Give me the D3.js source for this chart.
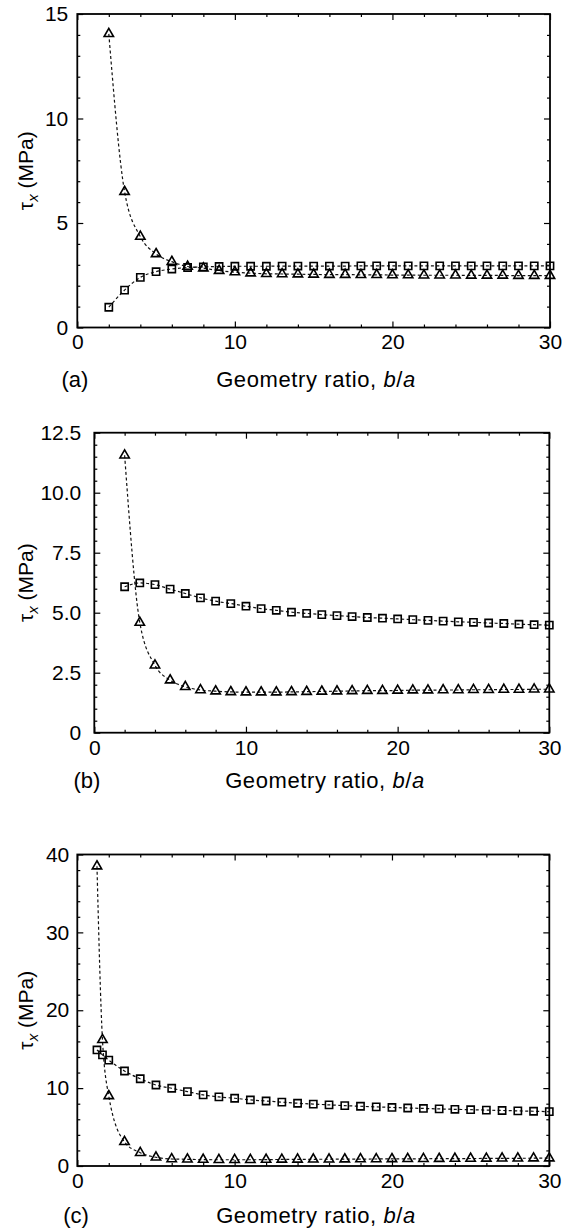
<!DOCTYPE html>
<html>
<head>
<meta charset="utf-8">
<script src="https://cdn.jsdelivr.net/npm/d3@7"></script>
<style>
  body { margin: 0; background: #fff; }
  svg { display: block; }
</style>
</head>
<body>
<script>
// x values (b/a)
var ratioAB = [2, 3, 4, 5, 6, 7, 8, 9, 10, 11, 12, 13, 14, 15, 16, 17, 18, 19, 20,
    21, 22, 23, 24, 25, 26, 27, 28, 29, 30];
var ratioC = [1.25, 1.6, 2, 3, 4, 5, 6, 7, 8, 9, 10, 11, 12, 13, 14, 15, 16, 17, 18,
    19, 20, 21, 22, 23, 24, 25, 26, 27, 28, 29, 30];

// panel (a)
var squaresA = [0.97, 1.79, 2.4, 2.67, 2.8, 2.87, 2.9, 2.92, 2.93, 2.93, 2.93, 2.94,
    2.94, 2.94, 2.94, 2.94, 2.95, 2.95, 2.95, 2.95, 2.95, 2.95, 2.95, 2.95, 2.95,
    2.95, 2.95, 2.95, 2.95];
var trianglesA = [14.05, 6.5, 4.35, 3.52, 3.15, 2.92, 2.84, 2.72, 2.65, 2.6, 2.57,
    2.56, 2.55, 2.54, 2.53, 2.53, 2.52, 2.52, 2.51, 2.51, 2.5, 2.5, 2.5, 2.49, 2.49,
    2.49, 2.48, 2.48, 2.48];

// panel (b)
var squaresB = [6.08, 6.24, 6.17, 5.98, 5.8, 5.62, 5.48, 5.38, 5.27, 5.17, 5.1,
    5.02, 4.97, 4.92, 4.88, 4.84, 4.8, 4.77, 4.74, 4.71, 4.68, 4.65, 4.62, 4.6,
    4.57, 4.55, 4.52, 4.5, 4.48];
var trianglesB = [11.56, 4.59, 2.81, 2.19, 1.91, 1.78, 1.73, 1.7, 1.69, 1.69, 1.69,
    1.7, 1.71, 1.72, 1.73, 1.74, 1.75, 1.75, 1.76, 1.77, 1.77, 1.78, 1.78, 1.79,
    1.79, 1.8, 1.8, 1.81, 1.81];

// panel (c)
var squaresC = [14.9, 14.27, 13.6, 12.2, 11.2, 10.4, 9.98, 9.55, 9.13, 8.87, 8.7,
    8.48, 8.35, 8.2, 8.06, 7.95, 7.85, 7.75, 7.67, 7.59, 7.52, 7.45, 7.39, 7.33,
    7.28, 7.23, 7.18, 7.13, 7.08, 7.03, 6.98];
var trianglesC = [38.5, 16.2, 9.0, 3.1, 1.7, 1.12, 0.9, 0.86, 0.82, 0.8, 0.8, 0.8,
    0.82, 0.84, 0.85, 0.86, 0.87, 0.88, 0.89, 0.9, 0.91, 0.92, 0.93, 0.94, 0.95,
    0.96, 0.97, 0.98, 0.99, 1.0, 1.0];

// ticks
var xTicks = [0, 10, 20, 30];
var xTickLabels = ["0", "10", "20", "30"];
var yTicksA = [0, 5, 10, 15];
var yTickLabelsA = ["0", "5", "10", "15"];
var yTicksB = [0, 2.5, 5, 7.5, 10, 12.5];
var yTickLabelsB = ["0", "2.5", "5.0", "7.5", "10.0", "12.5"];
var yTicksC = [0, 10, 20, 30, 40];
var yTickLabelsC = ["0", "10", "20", "30", "40"];
var panelNames = ["(a)", "(b)", "(c)"];

var fontFamily = "'Liberation Sans', Arial, Helvetica, sans-serif";
var fontSize = 21;

var svg = d3.select("body").append("svg")
    .attr("width", 563)
    .attr("height", 1228);

function labelMap(ticks, labels) {
    return function (d) {
        var i = ticks.indexOf(d);
        return i < 0 ? "" : labels[i];
    };
}

function drawPanel(p) {
    var g = svg.append("g");
    var x = d3.scaleLinear().domain([0, 30]).range([p.left, p.right]);
    var y = d3.scaleLinear().domain([0, p.yMax]).range([p.bottom, p.top]);

    var xMinor = d3.range(0, 30.001, 2).filter(function (v) { return xTicks.indexOf(v) < 0; });
    var yMinor = d3.range(0, p.yMax + 0.001, p.yMinorStep).filter(function (v) {
        return p.yTicks.indexOf(+v.toFixed(3)) < 0;
    });

    // bottom
    var bottom = g.append("g").attr("transform", "translate(0," + p.bottom + ")");
    bottom.call(d3.axisBottom(x).tickValues(xTicks).tickSize(-6).tickPadding(7)
        .tickFormat(labelMap(xTicks, xTickLabels)));
    bottom.append("g").call(d3.axisBottom(x).tickValues(xMinor).tickSize(-3).tickFormat(""));
    // top
    var top = g.append("g").attr("transform", "translate(0," + p.top + ")");
    top.call(d3.axisTop(x).tickValues(xTicks).tickSize(-6).tickFormat(""));
    top.append("g").call(d3.axisTop(x).tickValues(xMinor).tickSize(-3).tickFormat(""));
    // left
    var left = g.append("g").attr("transform", "translate(" + p.left + ",0)");
    left.call(d3.axisLeft(y).tickValues(p.yTicks).tickSize(-6).tickPadding(p.yPad)
        .tickFormat(labelMap(p.yTicks, p.yLabels)));
    left.append("g").call(d3.axisLeft(y).tickValues(yMinor).tickSize(-3).tickFormat(""));
    // right
    var right = g.append("g").attr("transform", "translate(" + p.right + ",0)");
    right.call(d3.axisRight(y).tickValues(p.yTicks).tickSize(-6).tickFormat(""));
    right.append("g").call(d3.axisRight(y).tickValues(yMinor).tickSize(-3).tickFormat(""));

    g.selectAll(".domain").remove();
    g.selectAll(".tick line").attr("stroke", "#000").attr("stroke-width", 1.2);
    g.selectAll(".tick text")
        .attr("fill", "#000")
        .style("font-family", fontFamily)
        .style("font-size", fontSize + "px");

    // frame
    g.append("rect")
        .attr("x", p.left).attr("y", p.top)
        .attr("width", p.right - p.left).attr("height", p.bottom - p.top)
        .attr("fill", "none").attr("stroke", "#000").attr("stroke-width", 1.8);

    var series = [
        { values: p.squares, symbol: d3.symbolSquare, size: 52 },
        { values: p.triangles, symbol: d3.symbolTriangle, size: 38 }
    ];

    var line = d3.line()
        .x(function (d) { return x(d[0]); })
        .y(function (d) { return y(d[1]); })
        .curve(d3.curveMonotoneX);

    series.forEach(function (s) {
        var pts = p.xs.map(function (v, i) { return [v, s.values[i]]; });
        g.append("path")
            .attr("d", line(pts))
            .attr("fill", "none")
            .attr("stroke", "#111")
            .attr("stroke-width", 1.2)
            .attr("stroke-dasharray", "3,2.5");
        g.selectAll(null).data(pts).enter().append("path")
            .attr("transform", function (d) { return "translate(" + x(d[0]) + "," + y(d[1]) + ")"; })
            .attr("d", d3.symbol().type(s.symbol).size(s.size))
            .attr("fill", "none")
            .attr("stroke", "#000")
            .attr("stroke-width", 1.6);
    });

    // y axis title
    var mid = (p.top + p.bottom) / 2;
    var yt = g.append("text")
        .attr("transform", "translate(33," + mid + ") rotate(-90)")
        .attr("text-anchor", "middle")
        .attr("fill", "#000")
        .style("font-family", fontFamily)
        .style("font-size", fontSize + "px");
    yt.append("tspan").text("τ");
    yt.append("tspan").attr("dy", 5).style("font-size", "15px").style("font-style", "italic").text("x");
    yt.append("tspan").attr("dy", -5).text(" (MPa)");

    // x axis title
    var xt = g.append("text")
        .attr("x", p.titleX).attr("y", p.titleY)
        .attr("text-anchor", "middle")
        .attr("fill", "#000")
        .style("font-family", fontFamily)
        .style("font-size", "22px")
        .style("letter-spacing", "0.6px");
    xt.append("tspan").text("Geometry ratio, ");
    xt.append("tspan").style("font-style", "italic").text("b");
    xt.append("tspan").text("/");
    xt.append("tspan").style("font-style", "italic").text("a");

    g.append("text")
        .attr("x", p.nameX).attr("y", p.titleY)
        .attr("text-anchor", "middle")
        .attr("fill", "#000")
        .style("font-family", fontFamily)
        .style("font-size", "22px")
        .text(p.name);
}

drawPanel({
    left: 77.3, right: 550, top: 14, bottom: 327.5,
    yMax: 15, yTicks: yTicksA, yLabels: yTickLabelsA, yMinorStep: 1, yPad: 9,
    xs: ratioAB, squares: squaresA, triangles: trianglesA,
    titleX: 316, titleY: 387, nameX: 75, name: panelNames[0]
});

drawPanel({
    left: 94.3, right: 549.3, top: 432.7, bottom: 732.7,
    yMax: 12.5, yTicks: yTicksB, yLabels: yTickLabelsB, yMinorStep: 0.5, yPad: 13,
    xs: ratioAB, squares: squaresB, triangles: trianglesB,
    titleX: 325, titleY: 788, nameX: 87, name: panelNames[1]
});

drawPanel({
    left: 77.3, right: 549.3, top: 854.5, bottom: 1166,
    yMax: 40, yTicks: yTicksC, yLabels: yTickLabelsC, yMinorStep: 2, yPad: 8,
    xs: ratioC, squares: squaresC, triangles: trianglesC,
    titleX: 316, titleY: 1223, nameX: 76, name: panelNames[2]
});
</script>
</body>
</html>
